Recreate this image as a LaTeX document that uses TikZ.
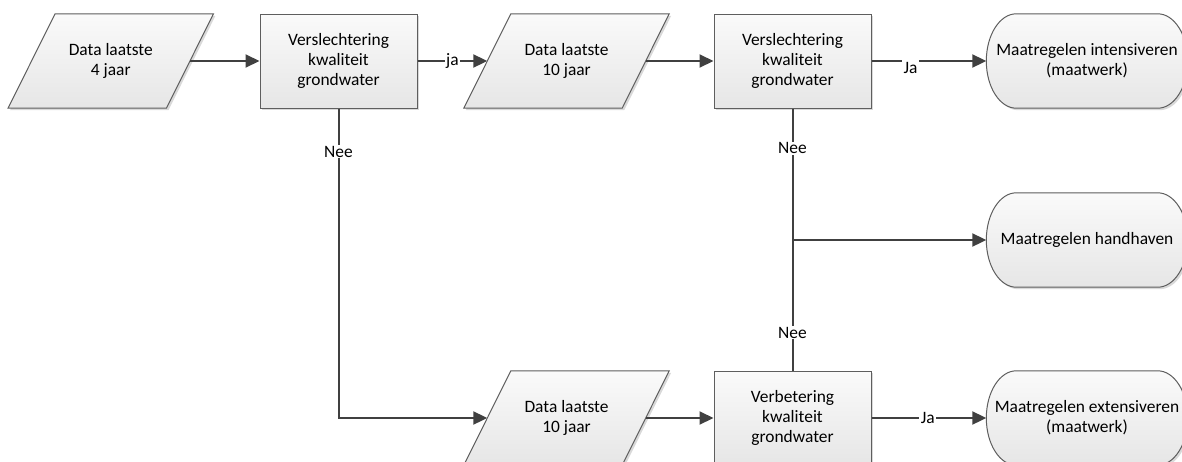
\documentclass[tikz,border=0pt]{standalone}
\usepackage{fontspec}
\setmainfont{Carlito}
\usetikzlibrary{arrows.meta,shadows,backgrounds}
\definecolor{linec}{HTML}{404040}
\definecolor{edgec}{HTML}{5E5E5E}
\definecolor{filltop}{HTML}{FAFAFA}
\definecolor{fillbot}{HTML}{E6E6E6}

% parallelogram (data) outline around a named node
\newcommand\ioshape[1]{%
  \path[shapefill] ([xshift=23.5pt]#1.north west) -- ([xshift=23.5pt]#1.north east)
    -- ([xshift=-23.5pt]#1.south east) -- ([xshift=-23.5pt]#1.south west) -- cycle;}
% terminator outline with elliptic ends (30pt x 47pt) around a named node
\newcommand\termshape[1]{%
  \path[shapefill] ([xshift=30pt]#1.north west) -- ([xshift=-30pt]#1.north east)
    .. controls ([xshift=-13.4pt]#1.north east) and ([yshift=26pt]#1.east) .. (#1.east)
    .. controls ([yshift=-26pt]#1.east) and ([xshift=-13.4pt]#1.south east) .. ([xshift=-30pt]#1.south east)
    -- ([xshift=30pt]#1.south west)
    .. controls ([xshift=13.4pt]#1.south west) and ([yshift=-26pt]#1.west) .. (#1.west)
    .. controls ([yshift=26pt]#1.west) and ([xshift=13.4pt]#1.north west) .. ([xshift=30pt]#1.north west)
    -- cycle;}

\begin{document}
\begin{tikzpicture}[x=1pt,y=-1pt,
  txt/.style={font=\fontsize{17.4pt}{20pt}\selectfont, align=center},
  shapefill/.style={draw=edgec, line width=1pt, top color=filltop, bottom color=fillbot,
    drop shadow={shadow xshift=2pt, shadow yshift=-2pt, opacity=.3, fill=gray}},
  procbox/.style={txt, rectangle, shapefill, minimum width=157pt, minimum height=94pt, inner sep=0pt},
  iobox/.style={txt, rectangle, minimum width=158pt, minimum height=94pt, inner sep=0pt},
  termbox/.style={txt, rectangle, minimum width=201pt, minimum height=94pt, inner sep=0pt},
  conn/.style={line width=2pt, draw=linec},
  arrow/.style={conn, -{Triangle[length=14pt,width=13pt]}},
  lbl/.style={txt, fill=white, inner xsep=1.5pt, inner ysep=1pt}
]
\useasboundingbox (0,0) rectangle (1182,461);
\clip (0,0) rectangle (1182,461);

% top row
\node[iobox]   (d4)   at (110.75,61) {Data laatste\\4 jaar};
\node[procbox] (v1)   at (338.5,61)  {Verslechtering\\kwaliteit\\grondwater};
\node[iobox]   (d10a) at (566.5,61)  {Data laatste\\10 jaar};
\node[procbox] (v2)   at (792.5,61)  {Verslechtering\\kwaliteit\\grondwater};
\node[termbox] (mi)   at (1087,61)   {Maatregelen intensiveren\\(maatwerk)};
% middle
\node[termbox] (mh)   at (1087,240)  {Maatregelen handhaven};
% bottom row
\node[iobox]   (d10b) at (566.5,418) {Data laatste\\10 jaar};
\node[procbox] (vb)   at (792.5,418) {Verbetering\\kwaliteit\\grondwater};
\node[termbox] (me)   at (1087,418)  {Maatregelen extensiveren\\(maatwerk)};

\begin{scope}[on background layer]
  \ioshape{d4}
  \ioshape{d10a}
  \ioshape{d10b}
  \termshape{mi}
  \termshape{mh}
  \termshape{me}
\end{scope}

% connectors
\draw[arrow] (d4.east) -- (v1.west);
\draw[arrow] (v1.east) -- node[lbl, pos=.5] {ja} (d10a.west);
\draw[arrow] (d10a.east) -- (v2.west);
\draw[arrow] (v2.east) -- node[lbl, pos=.34, anchor=north, yshift=2pt, inner ysep=2pt] {Ja} (mi.west);

\draw[arrow] (v1.south) -- node[lbl, pos=.14] {Nee} (v1.south |- d10b.west) -- (d10b.west);
\draw[arrow] (d10b.east) -- (vb.west);
\draw[arrow] (vb.east) -- node[lbl, pos=.49] {Ja} (me.west);

\draw[conn] (v2.south) -- node[lbl, pos=.152] {Nee} node[lbl, pos=.856] {Nee} (vb.north);
\coordinate (jn) at (v2.south |- mh.west);
\draw[arrow] (jn) -- (mh.west);
\end{tikzpicture}
\end{document}
